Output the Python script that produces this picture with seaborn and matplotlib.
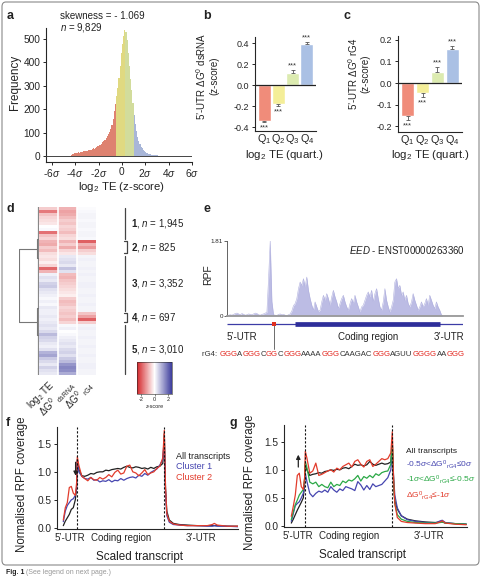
import re
import numpy as np
import pandas as pd
import seaborn as sns
import matplotlib.pyplot as plt
from matplotlib.colors import LinearSegmentedColormap
from matplotlib.offsetbox import TextArea, HPacker, AnnotationBbox
from matplotlib.patches import FancyBboxPatch

sns.set_theme(style='ticks')
plt.rcParams['font.family'] = ['Liberation Sans', 'DejaVu Sans']
plt.rcParams['mathtext.fontset'] = 'custom'
plt.rcParams['mathtext.rm'] = 'Liberation Sans'
plt.rcParams['mathtext.it'] = 'Liberation Sans:italic'
plt.rcParams['mathtext.bf'] = 'Liberation Sans:bold'
plt.rcParams['axes.unicode_minus'] = False
plt.rcParams['axes.linewidth'] = 0.8
plt.rcParams['xtick.major.width'] = 0.7
plt.rcParams['ytick.major.width'] = 0.7
plt.rcParams['xtick.major.size'] = 2.5
plt.rcParams['ytick.major.size'] = 2.5
plt.rcParams['text.color'] = '#222222'

# ---------------- data ----------------
# a: log2 TE z-score histogram, bins of 0.1 from -4.4 to 3.1
te_lo, te_hi, te_bw = -4.4, 3.1, 0.1
te_counts = [3, 8, 10, 12, 14, 13, 15, 14, 16, 17,
             16, 19, 20, 22, 21, 25, 27, 26, 30, 32,
             31, 36, 38, 42, 48, 45, 52, 58, 64, 70,
             78, 86, 95, 104, 115, 132, 160, 190, 220, 255,
             290, 335, 385, 440, 480, 515, 540, 528, 495, 440,
             385, 330, 280, 225, 175, 135, 105, 82, 64, 50,
             40, 32, 26, 20, 16, 13, 10, 8, 7, 5,
             4, 3, 3, 2, 2]
te_cuts = [-0.5, 0.3, 1.0]
skewness = -1.069
n_genes = 9829

quart_labels = ['Q1', 'Q2', 'Q3', 'Q4']
quart_ticks = ['Q$_1$', 'Q$_2$', 'Q$_3$', 'Q$_4$']

# b, c: 5'-UTR folding energies per TE quartile
ds_vals = [-0.34, -0.18, 0.117, 0.39]
ds_err = [0.015, 0.015, 0.025, 0.025]
g4_vals = [-0.152, -0.046, 0.052, 0.155]
g4_err = [0.018, 0.017, 0.023, 0.015]

# d: clustered heatmap (condensed rows)
cluster_rows = [11, 5, 19, 4, 17]
cluster_n = [1945, 825, 3352, 697, 3010]
rg4_clusters = [2, 4]
hm_te = [-0.6, -1.6, -0.7, -0.5, -0.4, -0.3, 0.0, 0.1, -1.7, -0.7, -0.5,
         -0.9, -1.0, -0.6, -0.8, -0.4,
         -0.3, -0.4, -0.2, -0.5, -1.8, -0.9, 0.2, 0.4, 0.3, 0.6, 0.7, 0.4, 0.3, 0.2, 0.1, 0.2, 0.1, 0.3, 0.2,
         0.2, 0.3, 0.2, 0.3,
         0.4, 0.3, 0.5, 0.9, 0.6, 0.5, 0.3, 0.2, 0.4, 1.0, 1.2, 0.7, 0.5, 0.3, 0.6, 0.4, 0.3]
hm_ds = [-0.9, -1.1, -1.0, -0.8, -0.6, -0.7, -0.5, -0.6, -0.8, -0.5, -0.4,
         -0.9, -0.6, -1.0, -0.5, -0.3,
         0.3, 0.4, 0.5, 0.3, 0.8, 0.4, -0.8, -0.9, -0.7, -0.6, -0.5, -0.4, -0.3, -0.2, -0.6, -0.8, -0.7, -0.5, -0.6,
         -0.7, -0.6, -0.8, -0.5,
         0.1, 0.2, 0.0, 0.1, 0.2, 0.3, 0.4, 0.3, 0.5, 0.6, 0.4, 0.7, 0.9, 1.4, 1.6, 1.5, 1.1]
hm_g4 = [0.05, 0.1, 0.15, 0.15, 0.1, 0.15, 0.15, 0.1, 0.15, 0.15, 0.1,
         -1.9, -0.9, -1.2, -0.6, -0.4,
         0.15, 0.2, 0.15, 0.15, 0.2, 0.15, 0.2, 0.15, 0.15, 0.2, 0.2, 0.15, 0.15, 0.2, 0.15, 0.15, 0.2, 0.15, 0.15,
         -0.7, -1.1, -1.9, -0.6,
         0.15, 0.2, 0.15, 0.15, 0.2, 0.15, 0.15, 0.2, 0.15, 0.15, 0.2, 0.15, 0.15, 0.2, 0.2, 0.15, 0.15]
hm_cols = ['log$_2$ TE', 'ΔG$^0$ $_{\\rm dsRNA}$', 'ΔG$^0$ $_{\\rm rG4}$']
# dendrogram links: (first row, last row, height)
dendro_links = [(10.8, 17.1, 0.1), (33.8, 42.7, 0.1)]

# e: EED ribosome footprints
tx_len = 710
cds_start, cds_end = 205, 642
rg4_site = 142
cov_pos = np.arange(0, 715, 5)
cov_rpf = [0.0, 0.02, 0.03, 0.02, 0.04, 0.06, 0.07, 0.05, 0.03, 0.06, 0.04, 0.02, 0.03,
           0.05, 0.04, 0.03, 0.05, 0.07, 0.06, 0.03, 0.02, 0.04, 0.05, 0.07, 0.09,
           0.9, 1.81, 0.35, 0.03, 0.02, 0.01, 0.04, 0.05, 0.03, 0.04, 0.02, 0.01, 0.03,
           0.05, 0.12, 0.25, 0.3,
           0.42, 0.66, 0.82, 0.74, 0.9, 0.7, 0.94, 0.62, 0.42, 0.26, 0.14, 0.34, 0.22,
           0.11, 0.14, 0.34, 0.5, 0.38, 0.54, 0.42, 0.26, 0.46, 0.62, 0.46, 0.34, 0.18,
           0.3, 0.42, 0.5, 0.34, 0.22, 0.14, 0.3, 0.42, 0.3, 0.5, 0.34, 0.22, 0.1,
           0.22, 0.26, 0.38, 0.5, 0.58, 0.46, 0.62, 0.34, 0.54, 0.66, 0.42, 0.22, 0.14,
           0.34, 0.66, 0.38, 0.22, 0.1, 0.22, 0.38, 0.82, 0.9, 0.66, 0.74, 0.5, 0.58,
           0.38, 0.5, 0.3, 0.22, 0.34, 0.54, 0.38, 0.26, 0.14, 0.22, 0.34, 0.22, 0.3,
           0.42, 0.26, 0.5, 0.38, 0.26, 0.18, 0.34, 0.22, 0.14,
           0.03, 0, 0, 0, 0, 0, 0, 0, 0, 0, 0, 0, 0, 0]
rg4_seq = 'GGGAGGGCGGCGGGAAAAGGGCAAGACGGGAGUUGGGGAAGGG'

# f, g: metagene profiles on scaled transcript
utr5 = (0, 14)
cds = (14, 101)
utr3 = (101, 175)
meta_pos = [0, 2, 4, 6, 8, 10, 12, 13.3, 14,
            15.5, 18.5, 21.5, 24.5, 27.5, 30.5, 33.5, 36.5, 39.5, 42.5,
            45.5, 48.5, 51.5, 54.5, 57.5, 60.5, 63.5, 66.5, 69.5, 72.5,
            75.5, 78.5, 81.5, 84.5, 87.5, 90.5, 93.5, 96.5, 99.5,
            101, 102.2, 103.5, 106, 110, 116, 124, 134, 144, 149, 151, 154, 164, 175]
f_all = [0.04, 0.12, 0.18, 0.24, 0.33, 0.36, 0.5, 0.7, 1.22,
         1.05, 0.93, 0.92, 0.94, 0.97, 0.96, 0.99, 1.0, 1.0, 1.03,
         1.02, 1.04, 1.05, 1.06, 1.05, 1.08, 1.1, 1.08, 1.07, 1.09,
         1.08, 1.06, 1.07, 1.05, 1.08, 1.06, 1.09, 1.1, 1.15,
         1.68, 0.7, 0.3, 0.14, 0.08, 0.06, 0.05, 0.04, 0.04, 0.04, 0.04, 0.04, 0.03, 0.03]
f_c1 = [0.11, 0.3, 0.4, 0.45, 0.5, 0.52, 0.58, 0.72, 1.2,
        1.0, 0.92, 0.88, 0.87, 0.9, 0.85, 0.86, 0.82, 0.84, 0.83,
        0.86, 0.82, 0.85, 0.84, 0.88, 0.85, 0.88, 0.9, 0.91, 0.89,
        0.94, 0.92, 0.97, 0.94, 0.99, 1.02, 1.05, 1.12, 1.22,
        1.55, 0.65, 0.22, 0.1, 0.06, 0.05, 0.04, 0.04, 0.03, 0.03, 0.04, 0.03, 0.03, 0.02]
f_c2 = [0.14, 0.36, 0.45, 0.72, 0.74, 0.62, 0.58, 0.8, 1.27,
        1.12, 0.92, 0.88, 0.84, 0.9, 0.86, 0.85, 0.9, 0.87, 0.9,
        0.95, 0.91, 0.99, 1.03, 0.96, 0.98, 1.1, 1.12, 1.0, 0.98,
        0.93, 0.98, 1.04, 0.95, 0.98, 1.0, 1.06, 1.1, 1.25,
        1.74, 0.75, 0.25, 0.12, 0.07, 0.05, 0.04, 0.04, 0.04, 0.06, 0.08, 0.05, 0.03, 0.03]
g_all = [0.05, 0.12, 0.2, 0.28, 0.35, 0.42, 0.5, 0.75, 1.1,
         1.0, 0.9, 0.92, 0.93, 0.95, 0.94, 0.97, 0.98, 1.0, 0.99,
         1.01, 1.0, 1.03, 1.04, 1.02, 1.06, 1.1, 1.08, 1.09, 1.07,
         1.09, 1.15, 1.1, 1.08, 1.1, 1.12, 1.1, 1.11, 1.14,
         1.5, 0.75, 0.45, 0.3, 0.18, 0.12, 0.09, 0.07, 0.06, 0.07, 0.07, 0.05, 0.04, 0.03]
g_mid = [0.08, 0.22, 0.36, 0.4, 0.43, 0.5, 0.58, 0.8, 0.94,
         0.8, 0.58, 0.52, 0.58, 0.62, 0.6, 0.64, 0.6, 0.7, 0.64,
         0.6, 0.66, 0.63, 0.7, 0.68, 0.66, 0.63, 0.79, 0.73, 0.64,
         0.72, 0.65, 0.75, 0.7, 0.72, 0.74, 0.8, 0.86, 1.0,
         1.3, 0.9, 0.55, 0.32, 0.18, 0.11, 0.08, 0.06, 0.05, 0.09, 0.1, 0.06, 0.04, 0.03]
g_low = [0.11, 0.25, 0.38, 0.46, 0.55, 0.6, 0.65, 0.85, 1.15,
         1.05, 0.78, 0.75, 0.78, 0.7, 0.74, 0.7, 0.68, 0.78, 0.7,
         0.74, 0.72, 0.8, 0.77, 0.82, 0.8, 0.84, 0.9, 0.8, 0.88,
         0.85, 0.9, 0.86, 0.93, 0.9, 0.95, 0.97, 0.98, 1.1,
         1.5, 0.85, 0.4, 0.2, 0.12, 0.08, 0.06, 0.05, 0.05, 0.06, 0.07, 0.05, 0.04, 0.03]
g_strong = [0.17, 0.35, 0.55, 0.9, 0.94, 0.7, 0.65, 0.85, 1.33,
            1.22, 0.94, 0.98, 1.12, 0.9, 0.92, 0.95, 0.98, 1.0, 0.96,
            1.03, 1.0, 1.06, 1.09, 1.12, 1.05, 1.15, 1.18, 1.1, 1.05,
            1.15, 1.18, 1.06, 1.1, 1.15, 1.2, 1.18, 1.2, 1.3,
            1.68, 0.9, 0.4, 0.15, 0.08, 0.06, 0.05, 0.04, 0.04, 0.07, 0.09, 0.05, 0.03, 0.02]

f_labels = ['All transcripts', 'Cluster 1', 'Cluster 2']
g_labels = ['All transcripts',
            '-0.5$\\sigma$<ΔG$^0$$_{\\rm rG4}$≤0$\\sigma$',
            '-1$\\sigma$<ΔG$^0$$_{\\rm rG4}$≤-0.5$\\sigma$',
            'ΔG$^0$$_{\\rm rG4}$≤-1$\\sigma$']

hist_colors = dict(zip(quart_labels, ['#de8270', '#e0d981', '#d2dc9c', '#a8b6d8']))
bar_colors = dict(zip(quart_labels, ['#f08c7a', '#f4ee98', '#dcebb0', '#aac0e4']))
c_black, c_blue, c_red, c_green = '#202020', '#4646b0', '#e23c2c', '#2aa845'

# ---------------- figure ----------------
W, H = 481, 578
fig = plt.figure(figsize=(W / 100, H / 100), dpi=100)


def box(x0, y0, x1, y1):
    return [x0 / W, 1 - y1 / H, (x1 - x0) / W, (y1 - y0) / H]


def ftext(x, y, s, **kw):
    kw.setdefault('ha', 'center')
    kw.setdefault('va', 'center')
    return fig.text(x / W, 1 - y / H, s, **kw)


# ---- a
ax_a = fig.add_axes(box(46, 28.5, 192, 162))
te_left = te_lo + te_bw * np.arange(len(te_counts))
hist_df = pd.DataFrame({'te': te_left + te_bw / 2, 'n': te_counts,
                        'q': [quart_labels[i] for i in np.digitize(np.round(te_left, 2), te_cuts)]})
sns.histplot(data=hist_df, x='te', weights='n', binwidth=te_bw, binrange=(te_lo, te_hi),
             hue='q', hue_order=quart_labels, palette=hist_colors, multiple='layer',
             alpha=1, linewidth=0, legend=False, ax=ax_a)
ax_a.axhline(0, color='#444444', lw=0.7, zorder=3)
ax_a.set_xlim(-6.5, 6.0)
ax_a.set_ylim(-26, 545)
ax_a.set_xticks(range(-6, 7, 2))
ax_a.set_xticklabels([f'{v}$\\sigma$' if v else '0' for v in range(-6, 7, 2)])
ax_a.set_yticks(range(0, 501, 100))
ax_a.set_xlabel('')
ax_a.set_ylabel('')
ax_a.tick_params(axis='y', labelsize=7.3, pad=1.5)
ax_a.tick_params(axis='x', labelsize=7.3, pad=1)
sns.despine(ax=ax_a)
ftext(15, 82, 'Frequency', rotation=90, fontsize=8.4)
ftext(122, 187, 'log$_2$ TE (z-score)', fontsize=8.2)
ftext(60, 16, f'skewness = - {abs(skewness):.3f}', ha='left', fontsize=7)
ftext(60, 28, f'$\\it{{n}}$ = {n_genes:,}', ha='left', fontsize=7)


# ---- b, c
def quart_panel(rect, vals, errs, ylim, ticks):
    ax = fig.add_axes(box(*rect))
    df = pd.DataFrame({'q': quart_labels, 'v': vals})
    sns.barplot(data=df, x='q', y='v', hue='q', hue_order=quart_labels, palette=bar_colors,
                saturation=1, width=0.9, errorbar=None, legend=False, ax=ax)
    neg = [e if v < 0 else 0 for v, e in zip(vals, errs)]
    pos = [e if v > 0 else 0 for v, e in zip(vals, errs)]
    ax.errorbar(range(4), vals, yerr=[neg, pos], fmt='none', ecolor='#555555',
                elinewidth=0.6, capsize=1.3, capthick=0.6)
    span = ylim[1] - ylim[0]
    for i, (v, e) in enumerate(zip(vals, errs)):
        if v > 0:
            ax.text(i, v + e + 0.005 * span, '***', ha='center', va='bottom', fontsize=5.5,
                    color='#333333', clip_on=False)
        else:
            ax.text(i, v - e - 0.025 * span, '***', ha='center', va='top', fontsize=5.5,
                    color='#333333', clip_on=False)
    ax.axhline(0, color='#222222', lw=0.9)
    ax.set_ylim(*ylim)
    ax.set_yticks(ticks)
    ax.set_yticklabels([f'{t:.1f}' for t in ticks])
    ax.set_xticks(range(4))
    ax.set_xticklabels(quart_ticks)
    ax.set_xlabel('')
    ax.set_ylabel('')
    ax.tick_params(axis='y', labelsize=6.5, pad=1.5)
    ax.tick_params(axis='x', labelsize=7.8, length=0, pad=1)
    sns.despine(ax=ax)
    return ax


ax_b = quart_panel((255, 37, 316, 131), ds_vals, ds_err, (-0.438, 0.46), [-0.4, -0.2, 0.0, 0.2, 0.4])
ax_c = quart_panel((398, 36.4, 462, 132), g4_vals, g4_err, (-0.226, 0.215), [-0.2, -0.1, 0.0, 0.1, 0.2])
ftext(207, 76, "5’-UTR ΔG$^0$ dsRNA\n(z-score)", rotation=90, fontsize=7, linespacing=1.1)
ftext(358, 74, "5’-UTR ΔG$^0$ rG4\n(z-score)", rotation=90, fontsize=7, linespacing=1.1)
ftext(284, 155, 'log$_2$ TE (quart.)', fontsize=8.2)
ftext(430, 155, 'log$_2$ TE (quart.)', fontsize=8.2)

# ---- d
hm_cmap = LinearSegmentedColormap.from_list('rwb', ['#d4262a', '#ffffff', '#3c3c9c'])
hm_df = pd.DataFrame({'te': hm_te, 'ds': hm_ds, 'g4': hm_g4})
ax_d = fig.add_axes(box(39, 207, 96, 375))
ax_cb = fig.add_axes(box(137, 362, 172, 394))
sns.heatmap(hm_df, cmap=hm_cmap, vmin=-2.6, vmax=2.6, ax=ax_d, cbar_ax=ax_cb,
            cbar_kws={'orientation': 'horizontal', 'ticks': [-2, 0, 2]},
            xticklabels=hm_cols, yticklabels=False)
for xc in (1, 2):
    ax_d.axvline(xc, color='white', lw=1.2)
ax_d.tick_params(axis='x', length=0, pad=2, labelsize=7)
plt.setp(ax_d.get_xticklabels(), rotation=45, ha='right', rotation_mode='anchor')
cb = ax_d.collections[0].colorbar
cb.ax.tick_params(labelsize=4, length=1.5, width=0.4, pad=1)
cb.outline.set_linewidth(0.4)
cb.set_label('z-score', fontsize=4, labelpad=1)

edges = np.cumsum([0] + cluster_rows)
for k, (lo, hi) in enumerate(zip(edges[:-1], edges[1:]), start=1):
    if k in rg4_clusters:
        ax_d.plot([4.45, 4.62, 4.62, 4.45], [lo + 0.5, lo + 0.5, hi - 0.5, hi - 0.5],
                  color='#444444', lw=0.9, clip_on=False)
    else:
        ax_d.plot([4.5, 4.5], [lo + 0.3, hi - 0.3], color='#444444', lw=0.9, clip_on=False)
    ax_d.text(4.85, (lo + hi) / 2, f'$\\bf{{{k}}}$, $\\it{{n}}$ = {cluster_n[k - 1]:,}',
              va='center', ha='left', fontsize=7)

ax_den = fig.add_axes(box(19, 207, 39, 375))
ax_den.set_xlim(1.0, 0)
ax_den.set_ylim(sum(cluster_rows), 0)
ax_den.axis('off')
ax_den.plot([0, 0], [0, sum(cluster_rows)], color='#888888', lw=1.6)
mids = []
for lo, hi, h in dendro_links:
    ax_den.plot([0, h, h, 0], [lo, lo, hi, hi], color='#777777', lw=0.8)
    mids.append((lo + hi) / 2)
ax_den.plot([0.1, 1, 1, 0.1], [mids[0], mids[0], mids[1], mids[1]], color='#777777', lw=0.8)

# ---- e
ax_e = fig.add_axes(box(227, 241, 463, 316))
ax_e.fill_between(cov_pos, cov_rpf, color='#bcbce4', lw=0)
sns.lineplot(x=cov_pos, y=cov_rpf, color='#b0b0de', lw=0.4, ax=ax_e)
ax_e.set_xlim(0, tx_len)
ax_e.set_ylim(0, max(cov_rpf))
ax_e.set_xticks([])
ax_e.set_yticks([0, max(cov_rpf)])
ax_e.set_yticklabels(['0', f'{max(cov_rpf):.2f}'])
ax_e.tick_params(axis='y', labelsize=4.5, length=2, width=0.5, pad=1)
for s in ('top', 'right'):
    ax_e.spines[s].set_visible(False)
ax_e.spines['left'].set_linewidth(0.5)
ax_e.spines['bottom'].set_color('#999999')
ax_e.spines['bottom'].set_linewidth(1.3)
ftext(208, 275, 'RPF', rotation=90, fontsize=7.5)
ax_e.text(1.008, 0.88, '$\\it{EED}$ - ENST00000263360', transform=ax_e.transAxes,
          ha='right', va='center', fontsize=7)

ax_t = fig.add_axes(box(227, 318, 463, 362))
ax_t.set_xlim(0, tx_len)
ax_t.set_ylim(44, 0)
ax_t.axis('off')
ax_t.plot([0, tx_len], [6, 6], color='#3c3ca6', lw=0.9, solid_capstyle='butt')
ax_t.plot([cds_start, cds_end], [6, 6], color='#2e2e9a', lw=3.4, solid_capstyle='butt')
ax_t.plot([rg4_site, rg4_site], [6, 31], color='#555555', lw=0.6)
ax_t.plot(rg4_site, 6, 's', color='#e03020', ms=3, mew=0)
ax_t.text(0, 19, '5’-UTR', ha='left', va='center', fontsize=7)
ax_t.text((cds_start + cds_end) / 2, 19, 'Coding region', ha='center', va='center', fontsize=7)
ax_t.text(tx_len + 4, 19, '3’-UTR', ha='right', va='center', fontsize=7)

areas = [TextArea('rG4: ', textprops=dict(color='#333333', fontsize=5.6))]
for seg in re.split(r'(G{2,})', rg4_seq):
    if seg:
        col = '#e3261e' if seg.startswith('GG') else '#333333'
        areas.append(TextArea(seg, textprops=dict(color=col, fontsize=5.6)))
seq_box = HPacker(children=areas, align='baseline', pad=0, sep=0)
fig.add_artist(AnnotationBbox(seq_box, (202 / W, 1 - 354 / H), xycoords='figure fraction',
                              box_alignment=(0, 0.5), frameon=False, pad=0))


# ---- f, g
def metagene(rect, xlim, series, colors, labels, leg_xy, leg_fs, leg_sp, arrow_up):
    ax = fig.add_axes(box(*rect))
    for y, c, lab in zip(series, colors, labels):
        sns.lineplot(x=meta_pos, y=y, color=c, lw=0.9, label=lab, ax=ax)
    for xb in (cds[0], cds[1]):
        ax.axvline(xb, color='#111111', lw=0.8, ls=(0, (2, 1.6)))
    ax.set_xlim(*xlim)
    ax.set_ylim(-0.02, 1.8)
    ax.set_yticks([0, 0.5, 1.0, 1.5])
    ax.set_yticklabels(['0.0', '0.5', '1.0', '1.5'])
    ax.set_xticks([sum(utr5) / 2, sum(cds) / 2, sum(utr3) / 2])
    ax.set_xticklabels(['5’-UTR', 'Coding region', '3’-UTR'])
    ax.tick_params(axis='y', labelsize=7.3, pad=1.5)
    ax.tick_params(axis='x', labelsize=7, length=0, pad=3)
    sns.despine(ax=ax)
    leg = ax.legend(loc='upper left', bbox_to_anchor=leg_xy, frameon=False, handlelength=0,
                    handletextpad=0, borderpad=0, labelspacing=leg_sp, fontsize=leg_fs,
                    labelcolor='linecolor')
    for h in leg.legend_handles:
        h.set_visible(False)
    red = np.array(series[-1])
    i5 = [i for i, p in enumerate(meta_pos) if p < utr5[1]]
    ip = max(i5, key=lambda i: red[i])
    xa, ya = meta_pos[ip], red[ip]
    if arrow_up:
        ax.annotate('', xy=(xa - 1, ya + 0.38), xytext=(xa - 1, ya + 0.06),
                    arrowprops=dict(arrowstyle='-|>', color='#222222', lw=0.9, mutation_scale=6))
    else:
        ax.annotate('', xy=(xa - 1, ya + 0.08), xytext=(xa - 1, ya + 0.42),
                    arrowprops=dict(arrowstyle='-|>', color='#222222', lw=0.9, mutation_scale=6))
    ax.set_xlabel('')
    ax.set_ylabel('')
    return ax


ax_f = metagene((57, 427, 238, 529), (-6.3, 174.7), [f_all, f_c1, f_c2],
                [c_black, c_blue, c_red], f_labels, (0.635, 0.80), 6.5, 0.15, False)
ax_g = metagene((284, 425, 467, 527), (-7.3, 175.7), [g_all, g_mid, g_low, g_strong],
                [c_black, c_blue, c_green, c_red], g_labels, (0.645, 0.82), 6.0, 0.35, True)
ftext(22, 484, 'Normalised RPF coverage', rotation=90, fontsize=8.3)
ftext(250, 482, 'Normalised RPF coverage', rotation=90, fontsize=8.3)
ftext(139, 557, 'Scaled transcript', fontsize=8.4)
ftext(363, 555, 'Scaled transcript', fontsize=8.4)

# ---- panel letters, frame, caption
for lab, x, y in [('a', 10, 16), ('b', 207, 16), ('c', 347, 16), ('d', 10, 209),
                  ('e', 207, 209), ('f', 8, 423), ('g', 233, 423)]:
    ftext(x, y, lab, fontsize=9, fontweight='bold')

fig.add_artist(FancyBboxPatch((2 / W, 1 - 565 / H), 477 / W, 563 / H,
                              boxstyle='round,pad=0,rounding_size=0.008',
                              transform=fig.transFigure, fill=False, ec='#8a8a8a', lw=0.8))
ftext(6, 573, 'Fig. 1', ha='left', fontsize=5, fontweight='bold')
ftext(26, 573, '(See legend on next page.)', ha='left', fontsize=5, color='#999999')

fig.savefig('out.png', dpi=100)
